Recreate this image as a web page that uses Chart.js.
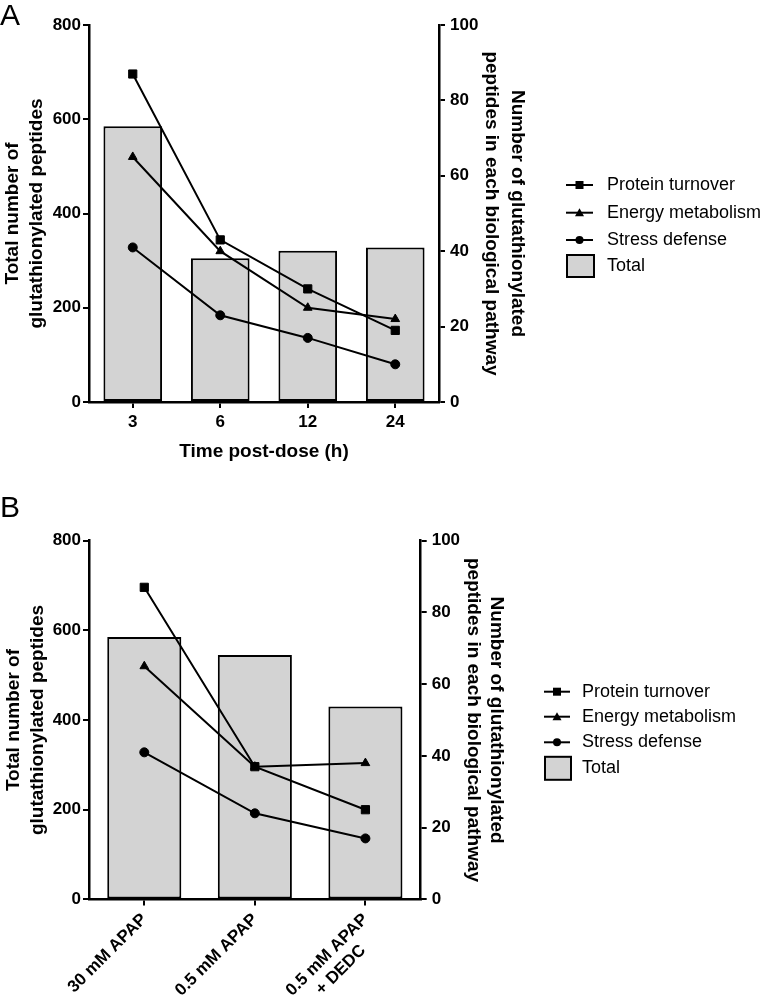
<!DOCTYPE html>
<html>
<head>
<meta charset="utf-8">
<script src="https://cdn.jsdelivr.net/npm/chart.js@4.4.1/dist/chart.umd.min.js"></script>
<style>
  html, body { margin: 0; padding: 0; background: #fff; }
  #wrap { position: relative; width: 766px; height: 999px; }
  canvas { position: absolute; left: 0; }
  #chartA { top: 0; }
  #chartB { top: 470px; }
</style>
</head>
<body>
<div id="wrap">
  <canvas id="chartA" width="766" height="470"></canvas>
  <canvas id="chartB" width="766" height="529"></canvas>
</div>
<script>
const FONT = '"Liberation Sans", Arial, Helvetica, sans-serif';
const BAR_FILL = '#d3d3d3';

// panel A: time course
const timeLabels = ['3', '6', '12', '24'];
const timeTotal = [585, 305, 321, 328];
const timeProtein = [87, 43, 30, 19];
const timeEnergy = [65, 40, 25, 22];
const timeStress = [41, 23, 17, 10];

// panel B: treatments (nbsp pad centres the 2nd line under the rotated 1st)
const treatLabels = ['30 mM APAP', '0.5 mM APAP', ['0.5 mM APAP', '+ DEDC\u00a0\u00a0\u00a0\u00a0\u00a0']];
const treatTotal = [585, 545, 430];
const treatProtein = [87, 37, 25];
const treatEnergy = [65, 37, 38];
const treatStress = [41, 24, 17];

// axis ranges
const leftMax = 800, leftStep = 200;
const rightMax = 100, rightStep = 20;

const leftTitle = ['Total number of', 'glutathionylated peptides'];
const rightTitle = ['Number of glutathionylated', 'peptides in each biological pathway'];

// legend + panel letter drawn at the side of each chart
const sideLegend = {
  id: 'sideLegend',
  afterDraw(chart, args, o) {
    const ctx = chart.ctx;
    ctx.save();
    ctx.fillStyle = '#000';
    ctx.textAlign = 'left';
    ctx.textBaseline = 'alphabetic';
    ctx.font = `30px ${FONT}`;
    ctx.fillText(o.letter, 0, o.letterY);

    ctx.font = `18px ${FONT}`;
    ctx.textBaseline = 'middle';
    chart.data.datasets.forEach((ds, i) => {
      const y = o.rows[i];
      if (ds.type === 'line') {
        const cx = o.x + o.w / 2;
        ctx.strokeStyle = '#000';
        ctx.lineWidth = 2;
        ctx.beginPath();
        ctx.moveTo(o.x, y);
        ctx.lineTo(o.x + o.w, y);
        ctx.stroke();
        ctx.beginPath();
        if (ds.pointStyle === 'rect') {
          ctx.rect(cx - 4, y - 4, 8, 8);
        } else if (ds.pointStyle === 'triangle') {
          ctx.moveTo(cx, y - 4.5);
          ctx.lineTo(cx + 4.5, y + 3.5);
          ctx.lineTo(cx - 4.5, y + 3.5);
          ctx.closePath();
        } else {
          ctx.arc(cx, y, 4, 0, Math.PI * 2);
        }
        ctx.fill();
      } else {
        ctx.fillStyle = BAR_FILL;
        ctx.fillRect(o.x + 1, y - o.boxH / 2, o.w, o.boxH);
        ctx.strokeStyle = '#000';
        ctx.lineWidth = 2;
        ctx.strokeRect(o.x + 1, y - o.boxH / 2, o.w, o.boxH);
        ctx.fillStyle = '#000';
      }
      ctx.fillText(ds.label, o.textX, y);
    });
    ctx.restore();
  }
};

function makeDatasets(total, protein, energy, stress) {
  const line = (label, data, style, r) => ({
    type: 'line', label, data, yAxisID: 'y1', order: 1,
    borderColor: '#000', backgroundColor: '#000', borderWidth: 2,
    pointStyle: style, pointRadius: r, pointBorderWidth: 1, tension: 0,
  });
  return [
    line('Protein turnover', protein, 'rect', 5.8),
    line('Energy metabolism', energy, 'triangle', 5),
    line('Stress defense', stress, 'circle', 4.5),
    {
      type: 'bar', label: 'Total', data: total, yAxisID: 'y', order: 2,
      backgroundColor: BAR_FILL, borderColor: '#000', borderWidth: 2, borderSkipped: false,
      categoryPercentage: 1, barPercentage: 0.67,
    },
  ];
}

const tickFont = { family: FONT, size: 17, weight: 'bold' };
const axisGrid = { drawOnChartArea: false, drawTicks: true, tickLength: 6, color: '#000', lineWidth: 2 };
const axisBorder = { color: '#000', width: 2.5 };

function buildChart(id, labels, total, protein, energy, stress, lay) {
  return new Chart(document.getElementById(id), {
    type: 'bar',
    data: { labels, datasets: makeDatasets(total, protein, energy, stress) },
    plugins: [sideLegend],
    options: {
      responsive: false,
      animation: false,
      layout: { padding: { top: lay.top, right: lay.right, bottom: lay.bottom, left: 0 } },
      plugins: { legend: { display: false }, tooltip: { enabled: false }, sideLegend: lay.legend },
      scales: {
        x: {
          offset: true,
          grid: { ...axisGrid, offset: false },
          border: axisBorder,
          ticks: { color: '#000', font: tickFont, padding: 4, minRotation: lay.rot, maxRotation: lay.rot, autoSkip: false },
          title: {
            display: !!lay.xTitle, text: lay.xTitle || '', color: '#000',
            font: { family: FONT, size: 19, weight: 'bold' }, padding: { top: 0, bottom: 0 },
          },
          afterFit: s => { s.height = lay.xHeight; },
        },
        y: {
          position: 'left', min: 0, max: leftMax,
          grid: axisGrid, border: axisBorder,
          ticks: { stepSize: leftStep, color: '#000', font: tickFont, padding: 2 },
          title: {
            display: true, text: leftTitle, color: '#000',
            font: { family: FONT, size: 19, weight: 'bold', lineHeight: lay.leftLH }, padding: { top: 1, bottom: 0 },
          },
          afterFit: s => { s.width = 89; },
        },
        y1: {
          position: 'right', min: 0, max: rightMax,
          grid: axisGrid, border: axisBorder,
          ticks: { stepSize: rightStep, color: '#000', font: tickFont, padding: 5 },
          title: {
            display: true, text: rightTitle, color: '#000',
            font: { family: FONT, size: 19, weight: 'bold', lineHeight: lay.rightLH }, padding: { top: 0, bottom: 0 },
          },
          afterFit: s => { s.width = lay.y1Width; },
        },
      },
    },
  });
}

buildChart('chartA', timeLabels, timeTotal, timeProtein, timeEnergy, timeStress, {
  top: 25, bottom: 6.6, right: 235.2, xHeight: 61.4, y1Width: 91.8,
  leftLH: 1.24, rightLH: 1.4, rot: 0, xTitle: 'Time post-dose (h)',
  legend: { letter: 'A', letterY: 25, x: 566, w: 27, textX: 607, rows: [185, 212.7, 240, 266], boxH: 22 },
});

buildChart('chartB', treatLabels, treatTotal, treatProtein, treatEnergy, treatStress, {
  top: 70.7, bottom: 0, right: 257.75, xHeight: 99.6, y1Width: 87.55,
  leftLH: 1.3, rightLH: 1.24, rot: 45, xTitle: null,
  legend: { letter: 'B', letterY: 47, x: 544, w: 26, textX: 582, rows: [221.7, 246.7, 272.3, 298.3], boxH: 23 },
});
</script>
</body>
</html>
